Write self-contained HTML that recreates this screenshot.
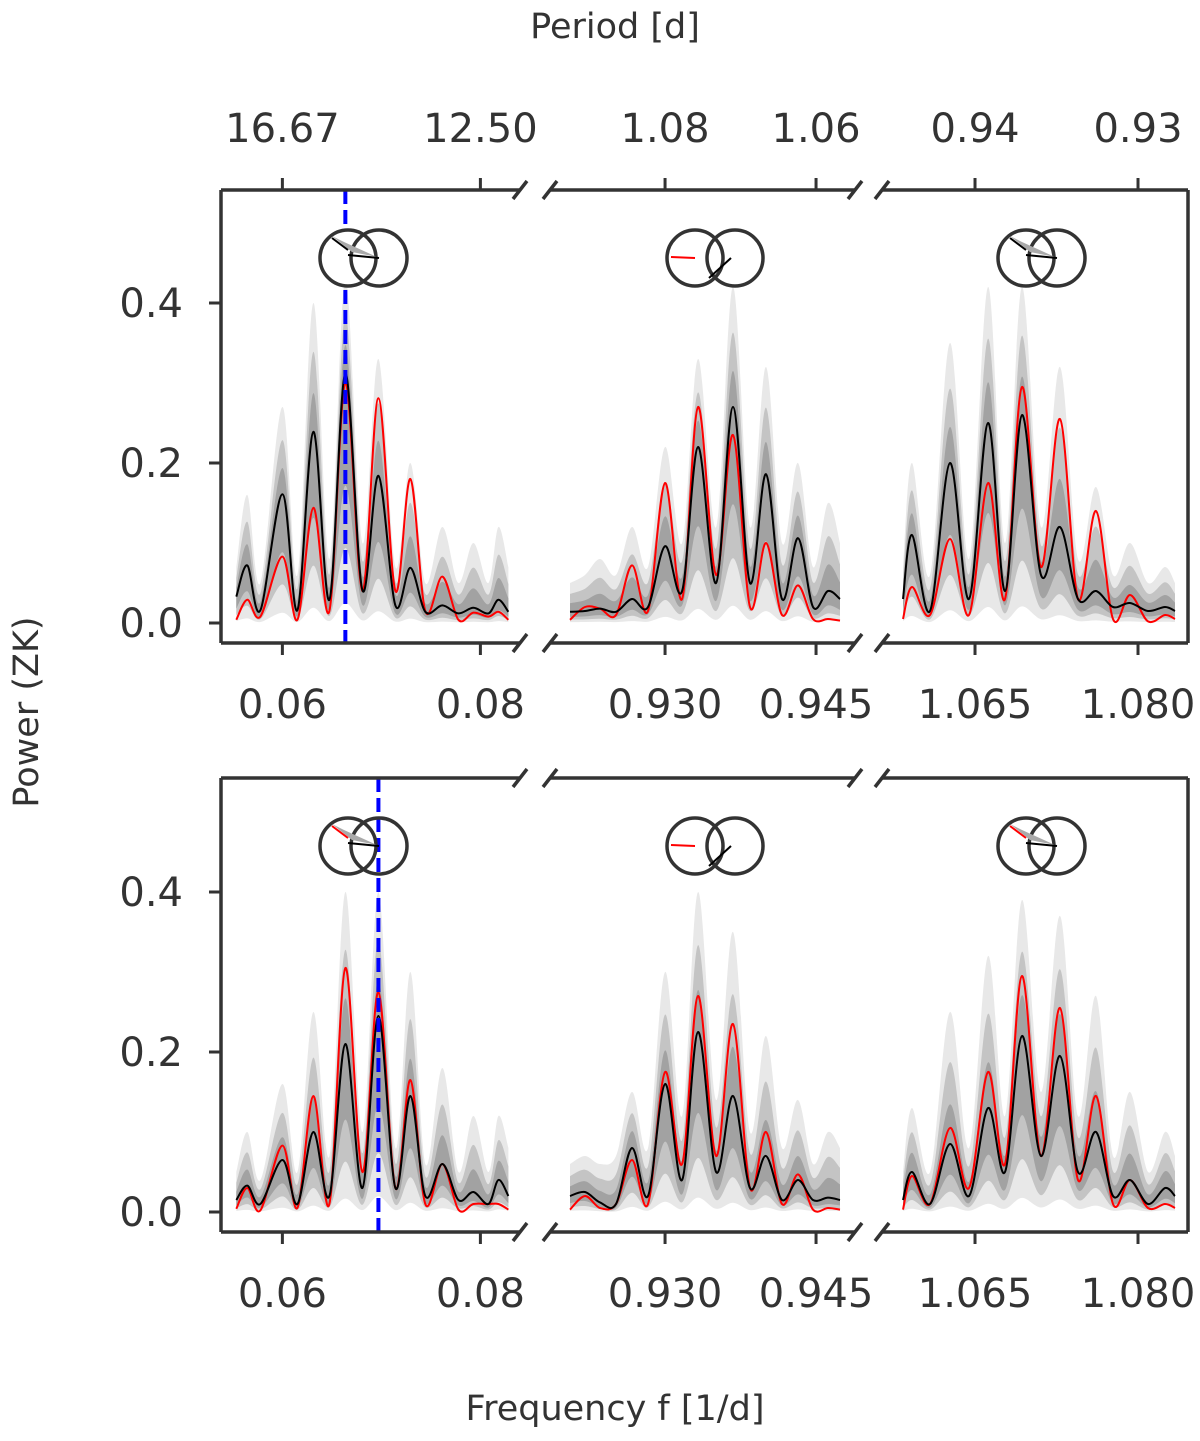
<!DOCTYPE html>
<html><head><meta charset="utf-8">
<style>
html,body{margin:0;padding:0;background:#fff;}
svg text{font-family:"DejaVu Sans","Liberation Sans",sans-serif;fill:#333;}
</style></head>
<body>
<svg id="chart" width="1200" height="1436" viewBox="0 0 1200 1436" xmlns="http://www.w3.org/2000/svg">
<text x="615" y="38" font-size="35" text-anchor="middle">Period [d]</text>
<text x="615" y="1420" font-size="35" text-anchor="middle">Frequency f [1/d]</text>
<text x="38" y="712" font-size="35" text-anchor="middle" transform="rotate(-90 38 712)">Power (ZK)</text>
</svg>
<script>
// ---- data ----
const freqA = [0.05535,0.05646,0.05778,0.06,0.06152,0.06313,0.06475,0.06636,0.06808,0.0697,0.07141,0.07293,0.07444,0.07616,0.07778,0.07929,0.08081,0.08182,0.08283];
const freqB = [0.92056,0.92205,0.92354,0.92513,0.92672,0.92831,0.93,0.93169,0.93328,0.93507,0.93675,0.93844,0.94003,0.94162,0.94321,0.9447,0.94619,0.94738];
const freqC = [1.05837,1.0592,1.06086,1.0627,1.06445,1.0662,1.06776,1.06932,1.07107,1.07282,1.07448,1.07613,1.0777,1.07926,1.08092,1.08248,1.0834];

const blackTopA = [0.033,0.072,0.016,0.161,0.016,0.239,0.029,0.312,0.041,0.184,0.022,0.069,0.014,0.022,0.012,0.019,0.012,0.029,0.014];
const redTopA   = [0.004,0.029,0.008,0.083,0.004,0.144,0.015,0.30,0.04,0.281,0.04,0.18,0.015,0.058,0.004,0.013,0.008,0.014,0.004];
const outerTopA = [0.07,0.16,0.05,0.27,0.06,0.40,0.08,0.43,0.1,0.33,0.07,0.20,0.05,0.12,0.05,0.10,0.05,0.12,0.07];

const blackTopB = [0.014,0.015,0.018,0.014,0.03,0.02,0.096,0.04,0.22,0.05,0.27,0.05,0.186,0.03,0.106,0.02,0.04,0.03];
const redTopB   = [0.004,0.02,0.018,0.01,0.072,0.015,0.175,0.03,0.27,0.06,0.235,0.02,0.1,0.01,0.047,0.005,0.005,0.003];
const outerTopB = [0.05,0.06,0.08,0.06,0.12,0.07,0.22,0.1,0.33,0.12,0.42,0.12,0.32,0.1,0.2,0.07,0.15,0.1];

const blackTopC = [0.03,0.11,0.015,0.2,0.03,0.25,0.04,0.26,0.06,0.12,0.03,0.04,0.02,0.025,0.015,0.02,0.015];
const redTopC   = [0.005,0.045,0.01,0.105,0.01,0.175,0.03,0.295,0.07,0.255,0.03,0.14,0.005,0.035,0.002,0.01,0.005];
const outerTopC = [0.07,0.2,0.06,0.35,0.08,0.42,0.1,0.42,0.12,0.32,0.08,0.17,0.06,0.1,0.05,0.07,0.05];

const blackBotA = [0.015,0.033,0.01,0.065,0.01,0.1,0.02,0.21,0.03,0.245,0.03,0.145,0.02,0.06,0.015,0.025,0.01,0.04,0.02];
const redBotA   = [0.004,0.03,0.002,0.083,0.005,0.145,0.01,0.305,0.05,0.275,0.03,0.165,0.01,0.06,0.003,0.01,0.01,0.01,0.003];
const outerBotA = [0.05,0.1,0.04,0.16,0.05,0.25,0.07,0.4,0.1,0.4,0.08,0.3,0.06,0.18,0.05,0.12,0.05,0.12,0.08];

const blackBotB = [0.02,0.025,0.012,0.01,0.08,0.02,0.16,0.04,0.225,0.05,0.145,0.03,0.07,0.015,0.04,0.015,0.018,0.015];
const redBotB   = [0.003,0.02,0.005,0.01,0.065,0.01,0.175,0.06,0.27,0.07,0.235,0.03,0.1,0.01,0.047,0.003,0.005,0.003];
const outerBotB = [0.06,0.07,0.06,0.07,0.15,0.08,0.3,0.12,0.4,0.14,0.35,0.1,0.22,0.08,0.14,0.06,0.1,0.08];

const blackBotC = [0.015,0.05,0.01,0.085,0.02,0.13,0.05,0.22,0.07,0.195,0.05,0.1,0.02,0.04,0.01,0.03,0.02];
const redBotC   = [0.003,0.045,0.01,0.105,0.03,0.175,0.06,0.295,0.07,0.255,0.04,0.145,0.01,0.04,0.005,0.01,0.005];
const outerBotC = [0.05,0.13,0.05,0.25,0.08,0.32,0.12,0.39,0.15,0.37,0.12,0.27,0.07,0.15,0.05,0.1,0.07];

const yTicks = [0.0,0.2,0.4];
const yTickLabels = ["0.0","0.2","0.4"];
const ticksA = [0.06,0.08]; const labelsA = ["0.06","0.08"]; const periodA = ["16.67","12.50"];
const ticksB = [0.930,0.945]; const labelsB = ["0.930","0.945"]; const periodB = ["1.08","1.06"];
const ticksC = [1.065,1.080]; const labelsC = ["1.065","1.080"]; const periodC = ["0.94","0.93"];
const markerTop = 0.06636;
const markerBot = 0.0697;

// ---- layout ----
const NS = "http://www.w3.org/2000/svg";
const svg = document.getElementById('chart');
function el(tag, attrs, parent){const e=document.createElementNS(NS,tag);for(const k in attrs)e.setAttribute(k,attrs[k]);(parent||svg).appendChild(e);return e;}

const cols = [
  {x0:221,x1:520,f0:0.0538,f1:0.0840,freq:freqA,ticks:ticksA,labels:labelsA,period:periodA,left:true,right:false,key:'a'},
  {x0:550,x1:855,f0:0.91857,f1:0.94887,freq:freqB,ticks:ticksB,labels:labelsB,period:periodB,left:false,right:false,key:'b'},
  {x0:882,x1:1188,f0:1.05644,f1:1.08460,freq:freqC,ticks:ticksC,labels:labelsC,period:periodC,left:false,right:true,key:'c'}
];
const rows = [
  {top:190,bottom:643,zero:623,name:'top',data:[[blackTopA,redTopA,outerTopA],[blackTopB,redTopB,outerTopB],[blackTopC,redTopC,outerTopC]],marker:markerTop,periodAxis:true},
  {top:778,bottom:1232,zero:1212,name:'bottom',data:[[blackBotA,redBotA,outerBotA],[blackBotB,redBotB,outerBotB],[blackBotC,redBotC,outerBotC]],marker:markerBot,periodAxis:false}
];
const PXU = 800;

function smoothPath(pts){
  let d = `M${pts[0][0].toFixed(1)},${pts[0][1].toFixed(1)}`;
  for(let i=0;i<pts.length-1;i++){
    const p0=pts[Math.max(0,i-1)],p1=pts[i],p2=pts[i+1],p3=pts[Math.min(pts.length-1,i+2)];
    const c1x=p1[0]+(p2[0]-p0[0])/6, c1y=p1[1]+(p2[1]-p0[1])/6;
    const c2x=p2[0]-(p3[0]-p1[0])/6, c2y=p2[1]-(p3[1]-p1[1])/6;
    d+=` C${c1x.toFixed(1)},${c1y.toFixed(1)} ${c2x.toFixed(1)},${c2y.toFixed(1)} ${p2[0].toFixed(1)},${p2[1].toFixed(1)}`;
  }
  return d;
}
function bandPath(xs, hi, lo){
  const up = xs.map((x,i)=>[x,hi[i]]);
  const dn = xs.map((x,i)=>[x,lo[i]]).reverse();
  let d = smoothPath(up);
  d += ' L' + smoothPath(dn).slice(1) + ' Z';
  return d;
}
const INK = '#333';

rows.forEach((row, ri)=>{
  const ys = v => row.zero - v*PXU;
  cols.forEach((c, ci)=>{
    const xs = f => c.x0 + (f - c.f0)/(c.f1 - c.f0)*(c.x1 - c.x0);
    const g = el('g',{});
    
    
    const cid = `clip-${ri}-${ci}`;
    const cp = el('clipPath',{id:cid},g);
    el('rect',{x:c.x0,y:row.top,width:c.x1-c.x0,height:row.bottom-row.top},cp);
    const pg = el('g',{'clip-path':`url(#${cid})`},g);
    const [black, red, outer] = row.data[ci];
    const X = c.freq.map(xs);
    const yb = black.map(ys);
    const oHi = outer.map(ys);
    const mHi = black.map((b,i)=>ys(b+0.62*(outer[i]-b)));
    const iHi = black.map((b,i)=>ys(b+0.3*(outer[i]-b)));
    const iLo = black.map(b=>ys(b*0.55));
    const mLo = black.map(b=>ys(b*0.3));
    const oLo = black.map(b=>ys(b*0.08));
    const b1 = el('path',{d:bandPath(X,oHi,oLo),fill:'#e8e8e8'},pg);
    
    
    const b2 = el('path',{d:bandPath(X,mHi,mLo),fill:'#c4c4c4'},pg);
    
    
    const b3 = el('path',{d:bandPath(X,iHi,iLo),fill:'#a2a2a2'},pg);
    
    
    const rl = el('path',{d:smoothPath(X.map((x,i)=>[x,ys(red[i])])),fill:'none',stroke:'#ff0000','stroke-width':2},pg);
    
    
    const bl = el('path',{d:smoothPath(X.map((x,i)=>[x,yb[i]])),fill:'none',stroke:'#000','stroke-width':2},pg);
    
    
    if(ci===0){
      const mx = xs(row.marker);
      const ml = el('line',{x1:mx,y1:row.top,x2:mx,y2:row.bottom,stroke:'#0000ff','stroke-width':4,'stroke-dasharray':'14,6'},pg);
      
      
    }
    // inset circles
    const cy = row.top + 68;
    const ccx = ci===0 ? 348 : (ci===1 ? 695 : 1026);
    const gap = ci===1 ? 40 : 31;
    const ig = el('g',{},g);
    
    
    el('circle',{cx:ccx,cy:cy,r:28,fill:'#fff',stroke:INK,'stroke-width':3.5},ig);
    el('circle',{cx:ccx+gap,cy:cy,r:28,fill:'none',stroke:INK,'stroke-width':3.5},ig);
    if(ci===1){
      el('line',{x1:ccx-24,y1:cy-1,x2:ccx,y2:cy,stroke:'#f00','stroke-width':2},ig);
      el('line',{x1:ccx+14,y1:cy+20,x2:ccx+gap-4,y2:cy,stroke:'#000','stroke-width':2},ig);
    } else {
      el('polygon',{points:`${ccx-16},${cy-22} ${ccx-4},${cy-16} ${ccx+gap-2},${cy-1} ${ccx+4},${cy-6}`,fill:'#aaa'},ig);
      el('line',{x1:ccx-16,y1:cy-20,x2:ccx,y2:cy-8,stroke:ri?'#f00':'#000','stroke-width':2},ig);
      el('line',{x1:ccx,y1:cy-3,x2:ccx+gap,y2:cy,stroke:'#000','stroke-width':2},ig);
    }
    // spines
    el('line',{x1:c.x0,y1:row.top,x2:c.x1,y2:row.top,stroke:INK,'stroke-width':3.5},g);
    el('line',{x1:c.x0,y1:row.bottom,x2:c.x1,y2:row.bottom,stroke:INK,'stroke-width':3.5},g);
    if(c.left) el('line',{x1:c.x0,y1:row.top,x2:c.x0,y2:row.bottom,stroke:INK,'stroke-width':3.5},g);
    if(c.right) el('line',{x1:c.x1,y1:row.top,x2:c.x1,y2:row.bottom,stroke:INK,'stroke-width':3.5},g);
    // break marks
    const br = (x,y)=>el('line',{x1:x-7,y1:y+9,x2:x+7,y2:y-9,stroke:INK,'stroke-width':3.5},g);
    if(!c.left){br(c.x0,row.top);br(c.x0,row.bottom);}
    if(!c.right){br(c.x1,row.top);br(c.x1,row.bottom);}
    // x ticks
    c.ticks.forEach((t,k)=>{
      const x = xs(t);
      el('line',{x1:x,y1:row.bottom,x2:x,y2:row.bottom+12,stroke:INK,'stroke-width':3},g);
      const lt = el('text',{x:x,y:row.bottom+75,'font-size':40,'text-anchor':'middle'},g);
      lt.textContent = c.labels[k];
      
      
      if(row.periodAxis){
        el('line',{x1:x,y1:row.top,x2:x,y2:row.top-12,stroke:INK,'stroke-width':3},g);
        const pt = el('text',{x:x,y:row.top-48,'font-size':40,'text-anchor':'middle'},g);
        pt.textContent = c.period[k];
        
        
      }
    });
    if(c.left){
      yTicks.forEach((t,k)=>{
        const y = ys(t);
        el('line',{x1:c.x0-12,y1:y,x2:c.x0,y2:y,stroke:INK,'stroke-width':3},g);
        const yt = el('text',{x:c.x0-38,y:y+14,'font-size':40,'text-anchor':'end'},g);
        yt.textContent = yTickLabels[k];
        
        
      });
    }
  });
});
</script>
</body></html>
